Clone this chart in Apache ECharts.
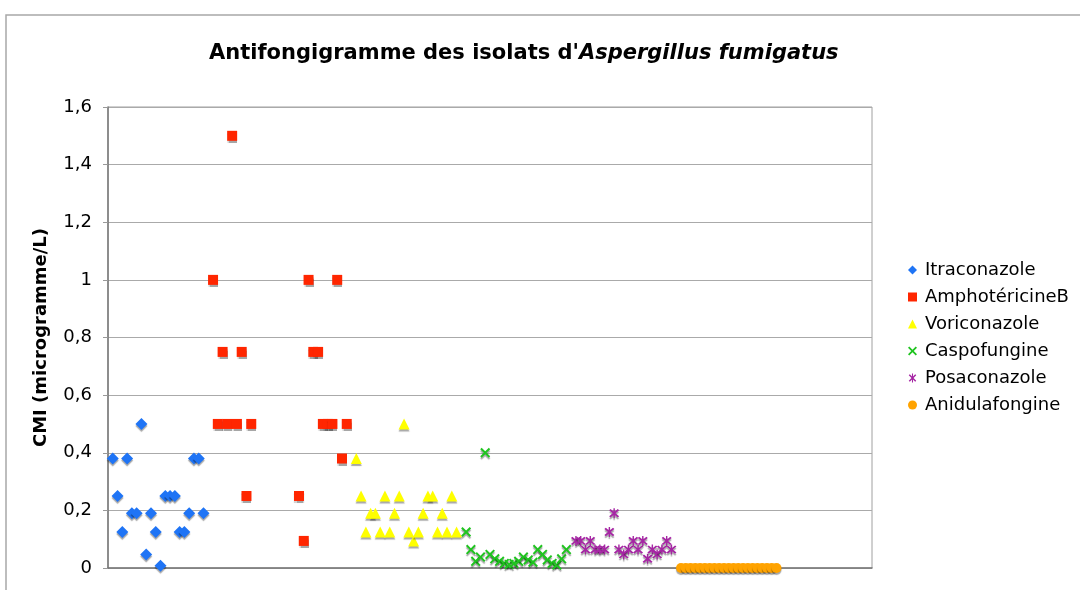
<!DOCTYPE html>
<html>
<head>
<meta charset="utf-8">
<script src="https://cdn.jsdelivr.net/npm/echarts@6/dist/echarts.min.js"></script>
<style>
html,body{margin:0;padding:0;background:#fff;}
#chart{width:1080px;height:590px;}
</style>
</head>
<body>
<div id="chart"></div>
<script>
// Isolate positions (x index) and CMI values (microgramme/L)
const itraX = [1,2,3,4,5,6,7,8,9,10,11,12,13,14,15,16,17,18,19,20];
const itraY = [0.38,0.25,0.125,0.38,0.19,0.19,0.5,0.047,0.19,0.125,0.008,0.25,0.25,0.25,0.125,0.125,0.19,0.38,0.38,0.19];

const amphoX = [22,23,24,25,26,27,28,29,30,40,41,42,43,44,45,46,47,48,49,50];
const amphoY = [1,0.5,0.75,0.5,1.5,0.5,0.75,0.25,0.5,0.25,0.094,1,0.75,0.75,0.5,0.5,0.5,1,0.38,0.5];

const voriX = [52,53,54,55,56,57,58,59,60,61,62,63,64,65,66,67,68,69,70,71,72,73];
const voriY = [0.38,0.25,0.125,0.19,0.19,0.125,0.25,0.125,0.19,0.25,0.5,0.125,0.094,0.125,0.19,0.25,0.25,0.125,0.19,0.125,0.25,0.125];

const caspoX = [75,76,77,78,79,80,81,82,83,84,85,86,87,88,89,90,91,92,93,94,95,96];
const caspoY = [0.125,0.064,0.023,0.038,0.4,0.047,0.032,0.023,0.016,0.012,0.016,0.023,0.038,0.028,0.02,0.064,0.047,0.028,0.016,0.01,0.032,0.064];

const posaX = [98,99,100,101,102,103,104,105,106,107,108,109,110,111,112,113,114,115,116,117,118];
const posaY = [0.094,0.094,0.064,0.094,0.064,0.064,0.064,0.125,0.19,0.064,0.047,0.064,0.094,0.064,0.094,0.032,0.064,0.047,0.064,0.094,0.064];

const aniduX = [120,121,122,123,124,125,126,127,128,129,130,131,132,133,134,135,136,137,138,139,140];
const aniduY = [0,0,0,0,0,0,0,0,0,0,0,0,0,0,0,0,0,0,0,0,0];

const yTicks = [0,0.2,0.4,0.6,0.8,1,1.2,1.4,1.6];

const seriesNames = ['Itraconazole','AmphotéricineB','Voriconazole','Caspofungine','Posaconazole','Anidulafongine'];

function pairs(xs, ys){ return xs.map((x,i)=>[x, ys[i]]); }

const X_PATH = 'path://M1.4,0L5,3.6L8.6,0L10,1.4L6.4,5L10,8.6L8.6,10L5,6.4L1.4,10L0,8.6L3.6,5L0,1.4Z';
const STAR_PATH = 'path://M1.4,0L5,3.6L8.6,0L10,1.4L6.4,5L10,8.6L8.6,10L5,6.4L1.4,10L0,8.6L3.6,5L0,1.4ZM4.3,-1L5.7,-1L5.7,11L4.3,11Z';

const shadow = {shadowColor:'rgba(0,0,0,0.35)', shadowOffsetY:2, shadowOffsetX:0, shadowBlur:1};

function mk(name, xs, ys, symbol, size, color){
  return {
    name: name, type:'scatter', data: pairs(xs, ys),
    symbol: symbol, symbolSize: size,
    itemStyle: Object.assign({color: color, opacity:1}, shadow),
    emphasis: {disabled:true}
  };
}

const chart = echarts.init(document.getElementById('chart'));
chart.setOption({
  animation:false,
  backgroundColor:'#fff',
  graphic:[{
    type:'rect', silent:true, z:-10,
    shape:{x:6, y:15, width:1200, height:700},
    style:{fill:'none', stroke:'#a8a8a8', lineWidth:1.5}
  }],
  title:{
    left:204, top:38,
    text:'{a|Antifongigramme des isolats d\'}{b|Aspergillus fumigatus}',
    textStyle:{
      rich:{
        a:{fontFamily:'DejaVu Sans', fontWeight:'bold', fontSize:21, color:'#000'},
        b:{fontFamily:'DejaVu Sans', fontWeight:'bold', fontStyle:'italic', fontSize:21, color:'#000'}
      }
    }
  },
  legend:{
    orient:'vertical', left:903, top:256, itemGap:9,
    itemWidth:9, itemHeight:9,
    data: seriesNames,
    textStyle:{fontFamily:'DejaVu Sans', fontSize:18, color:'#000', padding:[0,0,0,3]}
  },
  grid:{left:108, right:208, top:107, bottom:22, show:true, borderColor:'#a0a0a0', borderWidth:1},
  xAxis:{
    type:'value', min:0, max:160,
    axisLine:{show:true, onZero:false, lineStyle:{color:'#777', width:1.5}},
    axisTick:{show:false}, axisLabel:{show:false}, splitLine:{show:false}
  },
  yAxis:{
    type:'value', min:0, max:1.6, interval:0.2,
    name:'CMI (microgramme/L)', nameLocation:'middle', nameGap:58,
    nameTextStyle:{fontFamily:'DejaVu Sans', fontWeight:'bold', fontSize:18, color:'#000'},
    axisLine:{show:true, lineStyle:{color:'#777', width:1.5}},
    axisTick:{show:true, length:5, lineStyle:{color:'#999'}},
    axisLabel:{fontFamily:'DejaVu Sans', fontSize:18, color:'#000', margin:16,
      formatter: v => { const t = yTicks.find(k => Math.abs(k - v) < 1e-9); return String(t === undefined ? v : t).replace('.', ','); }},
    splitLine:{show:true, lineStyle:{color:'#aaaaaa', width:1}}
  },
  series:[
    mk(seriesNames[0], itraX, itraY, 'diamond', 12, '#1f74f5'),
    mk(seriesNames[1], amphoX, amphoY, 'rect', 10, '#ff2600'),
    mk(seriesNames[2], voriX, voriY, 'triangle', 11, '#ffff00'),
    mk(seriesNames[3], caspoX, caspoY, X_PATH, 10, '#1fc41f'),
    mk(seriesNames[4], posaX, posaY, STAR_PATH, 10, '#a626a4'),
    mk(seriesNames[5], aniduX, aniduY, 'circle', 10, '#ffa300')
  ]
});
</script>
</body>
</html>
